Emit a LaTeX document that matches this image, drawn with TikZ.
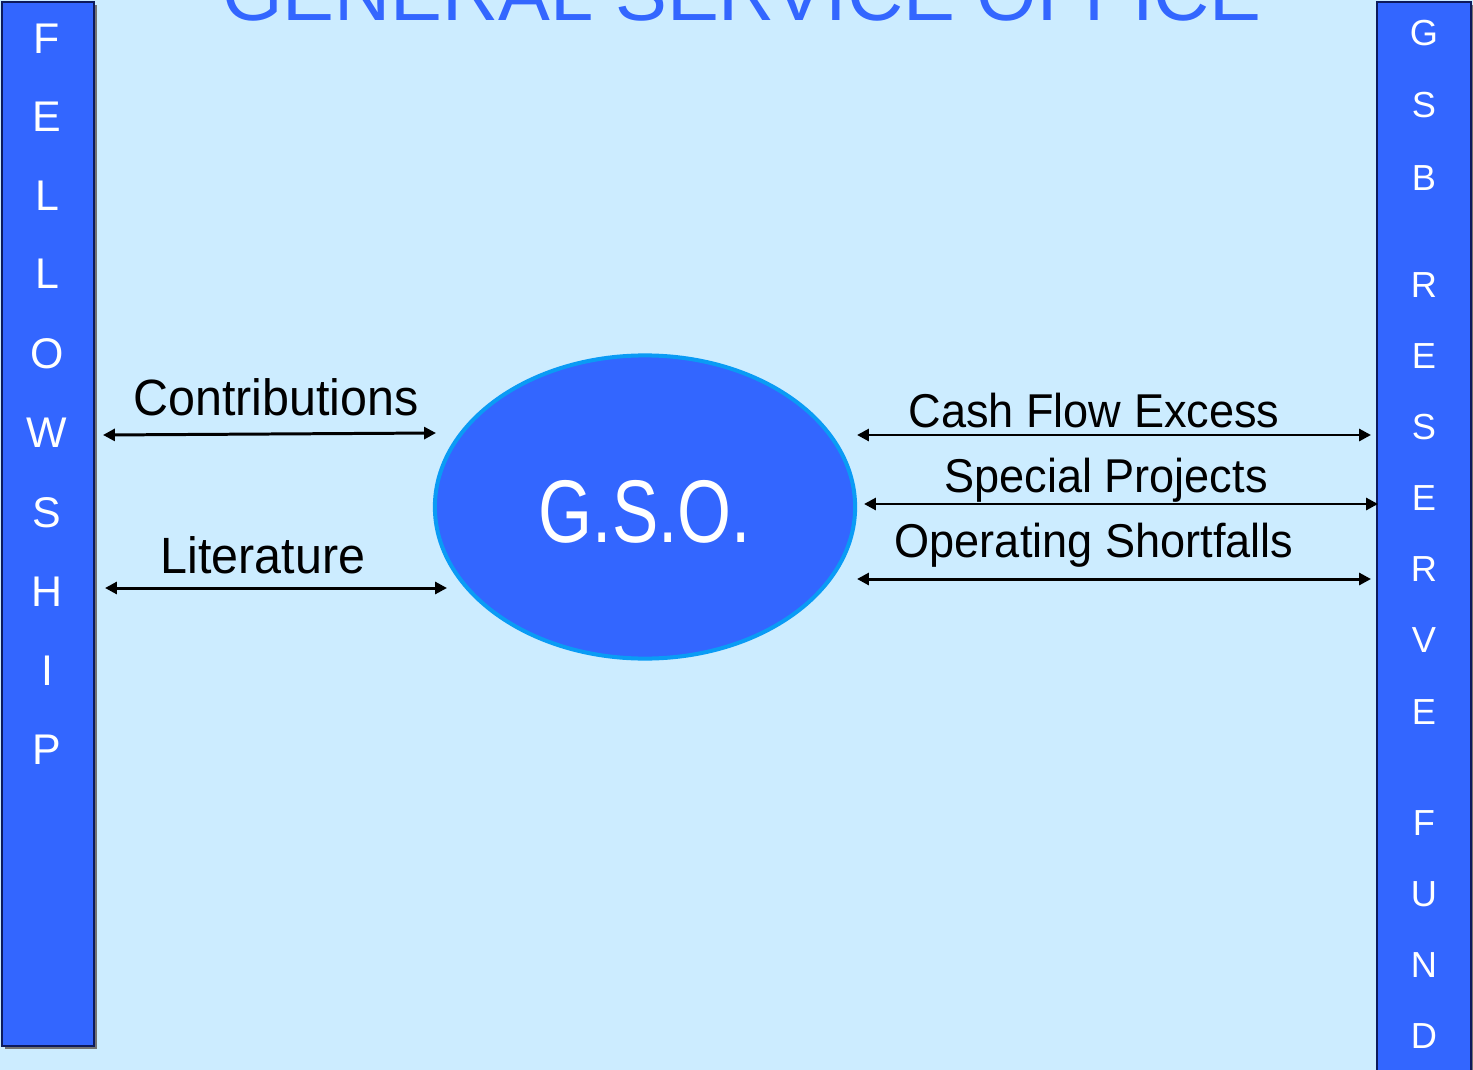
\documentclass[tikz,border=0pt]{standalone}
\usepackage{fontspec}
\setmainfont{Liberation Sans}
\newfontfamily\narrowfont[FakeStretch=0.95]{Liberation Sans}
\newfontfamily\gsofont[FakeStretch=0.78]{Liberation Sans}
\usepackage{tikz}
\usetikzlibrary{shapes, arrows.meta, positioning, calc, shadows}
\definecolor{bgblue}{HTML}{CCECFF}
\definecolor{barblue}{HTML}{3366FF}
\definecolor{rimblue}{HTML}{0A9BF5}
\definecolor{barrim}{HTML}{0D1A5C}

\begin{document}
\begin{tikzpicture}[
			x=0.01cm, y=-0.01cm,
			bar/.style={rectangle, draw=barrim, line width=0.6pt, fill=barblue, minimum width=0.92cm, inner sep=0pt, drop shadow={shadow xshift=0.03cm, shadow yshift=-0.03cm, fill=black!55, opacity=1}},
			barletter/.style={anchor=base, inner sep=0pt, text=white},
			office/.style={ellipse, draw=rimblue, line width=0.04cm, fill=barblue, minimum width=4.2cm, minimum height=3.03cm, inner sep=0pt},
			arrow/.style={{Triangle[length=3.4pt, width=3.4pt]}-{Triangle[length=3.4pt, width=3.4pt]}, line width=0.85pt},
			flow/.style={anchor=base, inner sep=0pt, font=\narrowfont\fontsize{14.5pt}{17pt}\selectfont},
			fund/.style={anchor=base, inner sep=0pt, font=\narrowfont\fontsize{13.5pt}{16pt}\selectfont}
			]
			
			\useasboundingbox (0,0) rectangle (1473,1070);
			\fill[bgblue] (0,0) rectangle (1473,1070);
			
			\node[anchor=base, inner sep=0pt, text=barblue, font=\fontsize{22.1pt}{26pt}\selectfont] (title) at (742,21) {GENERAL SERVICE OFFICE};
			
			% side bars
			\node[bar, minimum height=10.44cm] (fellowship) at (48,524) {};
			\node[bar, minimum width=0.94cm, minimum height=10.78cm] (reserve) at (1424,541) {};
			
			\foreach \ch/\yc [count=\i] in {F/38, E/116, L/195, L/273, O/353, W/432, S/512, H/591, I/670, P/749}
				\node[barletter, font=\fontsize{12.2pt}{14pt}\selectfont] (fl\i) at (47,\yc+15.5) {\ch};
			\foreach \ch/\yc [count=\i] in {G/33, S/105, B/177, R/284, E/355, S/426, E/497, R/568, V/639, E/711, F/822, U/893, N/964, D/1035}
				\node[barletter, font=\fontsize{10.3pt}{12pt}\selectfont] (rl\i) at (1424,\yc+13) {\ch};
			
			\node[office] (gso) at (645,507) {};
			\node[anchor=base, inner sep=0pt, text=white, font=\gsofont\fontsize{25.3pt}{30pt}\selectfont] (gsotext) at (645,542) {G.S.O.};
			
			% fellowship side
			\coordinate (contribL) at (103,435);
			\coordinate (contribR) at (436,433);
			\coordinate (litL) at (105,588);
			\coordinate (litR) at (447,588);
			\draw[arrow] (contribL) -- (contribR);
			\draw[arrow] (litL) -- (litR);
			\node[flow] (contrib) at (276,415) {Contributions};
			\node[flow] (lit) at (263,573) {Literature};
			
			% reserve fund side
			\coordinate (cashL) at (857,435);
			\coordinate (cashR) at (1371,435);
			\coordinate (specL) at (864,504);
			\coordinate (specR) at (1378,504);
			\coordinate (operL) at (857,579);
			\coordinate (operR) at (1371,579);
			\draw[arrow] (cashL) -- (cashR);
			\draw[arrow] (specL) -- (specR);
			\draw[arrow] (operL) -- (operR);
			\node[fund] (cash) at (1094,427) {Cash Flow Excess};
			\node[fund] (spec) at (1106,492) {Special Projects};
			\node[fund] (oper) at (1094,557) {Operating Shortfalls};
		\end{tikzpicture}
\end{document}
